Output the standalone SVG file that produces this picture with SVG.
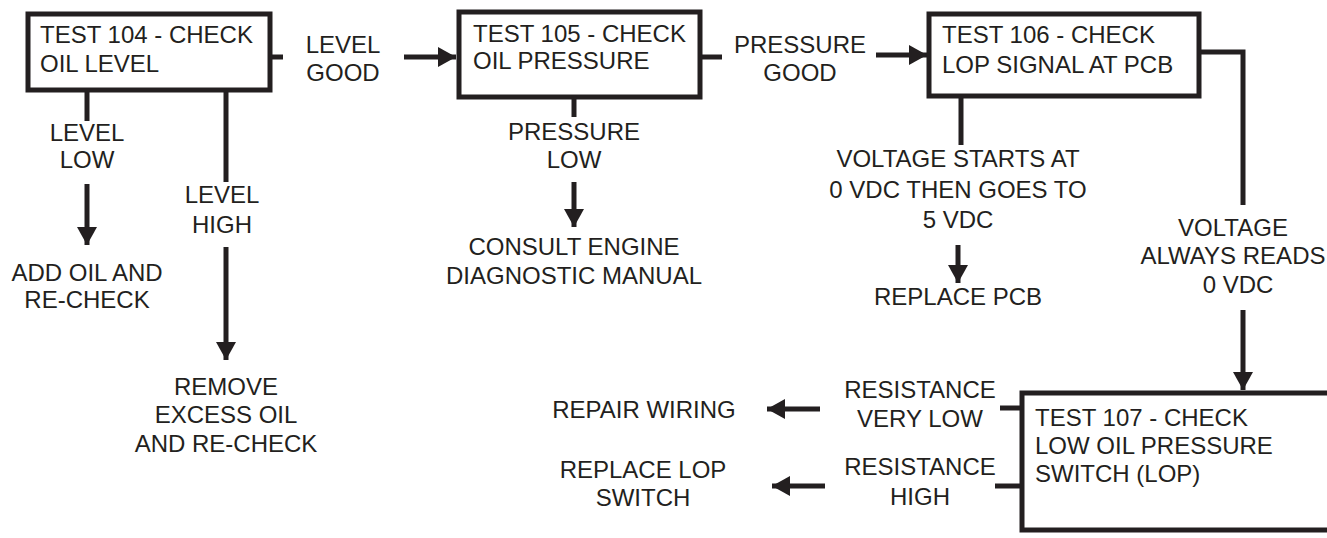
<svg xmlns="http://www.w3.org/2000/svg" width="1327" height="538" viewBox="0 0 1327 538">
<style>
.box{fill:#fff;stroke:#231f20;stroke-width:5}
.ln{fill:none;stroke:#231f20;stroke-width:5}
text{font-family:"Liberation Sans",Arial,sans-serif;font-size:24px;fill:#231f20}
.c{text-anchor:middle}
</style>
<defs>
<marker id="ah" markerUnits="userSpaceOnUse" markerWidth="22" markerHeight="22" viewBox="0 0 22 22" refX="18" refY="11" orient="auto">
<path d="M0,1 L18,11 L0,21 Z" fill="#231f20"/>
</marker>
</defs>
<g id="connectors">
<path class="ln" d="M270,57 H283"/>
<path class="ln" d="M404,57 H456" marker-end="url(#ah)"/>
<path class="ln" d="M700,57 H722"/>
<path class="ln" d="M876,55 H927" marker-end="url(#ah)"/>
<path class="ln" d="M87,90 V121"/>
<path class="ln" d="M87,184 V245" marker-end="url(#ah)"/>
<path class="ln" d="M226,90 V182"/>
<path class="ln" d="M226,247 V360" marker-end="url(#ah)"/>
<path class="ln" d="M574,97 V117"/>
<path class="ln" d="M574,182 V227" marker-end="url(#ah)"/>
<path class="ln" d="M961,96 V145"/>
<path class="ln" d="M958,245 V283" marker-end="url(#ah)"/>
<path class="ln" d="M1199,52 H1243 V205"/>
<path class="ln" d="M1243,310 V390" marker-end="url(#ah)"/>
<path class="ln" d="M1022,408 H1000"/>
<path class="ln" d="M820,409 H767" marker-end="url(#ah)"/>
<path class="ln" d="M1022,486 H995"/>
<path class="ln" d="M825,486 H772" marker-end="url(#ah)"/>
</g>
<g id="t104"><rect class="box" x="28" y="14" width="242" height="76"/>
<text x="40" y="43">TEST 104 - CHECK</text><text x="40" y="72">OIL LEVEL</text></g>
<g id="t105"><rect class="box" x="459" y="12" width="241" height="85"/>
<text x="473" y="42">TEST 105 - CHECK</text><text x="473" y="69">OIL PRESSURE</text></g>
<g id="t106"><rect class="box" x="929" y="14" width="270" height="82"/>
<text x="942" y="43">TEST 106 - CHECK</text><text x="942" y="73">LOP SIGNAL AT PCB</text></g>
<g id="t107"><rect class="box" x="1022" y="393" width="310" height="137"/>
<text x="1035" y="426">TEST 107 - CHECK</text><text x="1035" y="454">LOW OIL PRESSURE</text><text x="1035" y="482">SWITCH (LOP)</text></g>
<g id="labels">
<text class="c" x="343" y="53">LEVEL</text><text class="c" x="343" y="81">GOOD</text>
<text class="c" x="800" y="53">PRESSURE</text><text class="c" x="800" y="81">GOOD</text>
<text class="c" x="87" y="141">LEVEL</text><text class="c" x="87" y="168">LOW</text>
<text class="c" x="222" y="203">LEVEL</text><text class="c" x="222" y="233">HIGH</text>
<text class="c" x="574" y="140">PRESSURE</text><text class="c" x="574" y="168">LOW</text>
<text class="c" x="958" y="167">VOLTAGE STARTS AT</text><text class="c" x="958" y="198">0 VDC THEN GOES TO</text><text class="c" x="958" y="228">5 VDC</text>
<text class="c" x="1233" y="236">VOLTAGE</text><text class="c" x="1233" y="264">ALWAYS READS</text><text class="c" x="1238" y="293">0 VDC</text>
<text class="c" x="920" y="398">RESISTANCE</text><text class="c" x="920" y="427">VERY LOW</text>
<text class="c" x="920" y="475">RESISTANCE</text><text class="c" x="920" y="505">HIGH</text>
</g>
<g id="outcomes">
<text class="c" x="87" y="281">ADD OIL AND</text><text class="c" x="87" y="308">RE-CHECK</text>
<text class="c" x="226" y="395">REMOVE</text><text class="c" x="226" y="423">EXCESS OIL</text><text class="c" x="226" y="452">AND RE-CHECK</text>
<text class="c" x="574" y="255">CONSULT ENGINE</text><text class="c" x="574" y="284">DIAGNOSTIC MANUAL</text>
<text class="c" x="958" y="305">REPLACE PCB</text>
<text class="c" x="644" y="418">REPAIR WIRING</text>
<text class="c" x="643" y="478">REPLACE LOP</text><text class="c" x="643" y="506">SWITCH</text>
</g>
</svg>
